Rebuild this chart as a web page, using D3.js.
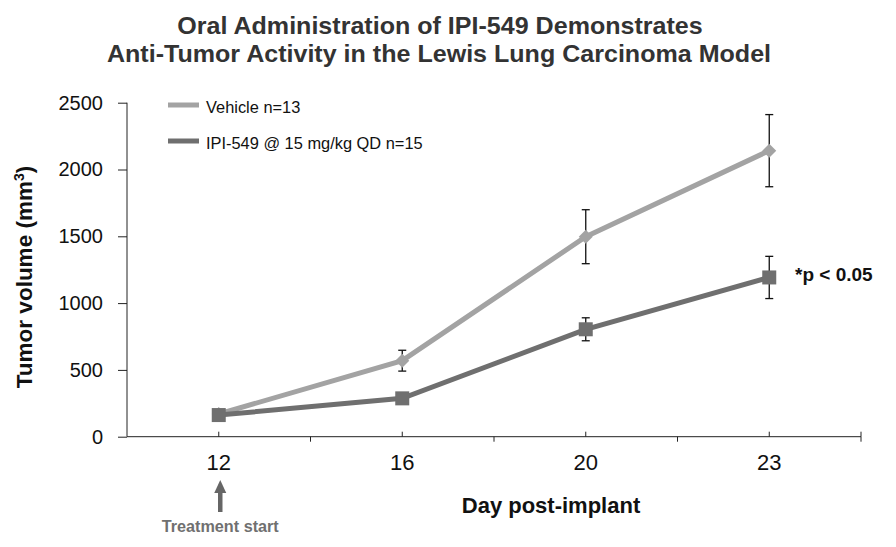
<!DOCTYPE html>
<html><head><meta charset="utf-8">
<script src="https://cdn.jsdelivr.net/npm/d3@7"></script>
<style>body{margin:0;background:#fff}svg{display:block}text{font-family:"Liberation Sans",Arial,sans-serif}</style>
</head><body>
<svg id="c" width="896" height="547"></svg>
<script>
const days = ["12","16","20","23"];
const vehicle = [170, 569, 1497, 2141];
const vehicleErr = [0, 78, 202, 270];
const ipi = [162, 287, 804, 1192];
const ipiErr = [0, 0, 86, 158];
const yTicks = [0,500,1000,1500,2000,2500];
const seriesNames = ["Vehicle n=13","IPI-549 @ 15 mg/kg QD n=15"];

const svg = d3.select("#c");
const x = d3.scaleBand().domain(days).range([127,861]).paddingInner(0).paddingOuter(0);
const y = d3.scaleLinear().domain([0,2500]).range([436.7,102.7]);
const cx = d => x(d)+x.bandwidth()/2;

function stext(px, py, str, size, sx, anchor, weight, fill){
  return svg.append("text").attr("transform",`translate(${px},${py}) scale(${sx},1)`)
    .attr("text-anchor",anchor).style("font-size",size+"px").style("font-weight",weight).attr("fill",fill).text(str);
}

// title
stext(440, 34, "Oral Administration of IPI-549 Demonstrates", 23, 1.09, "middle", "bold", "#333");
stext(439, 61.5, "Anti-Tumor Activity in the Lewis Lung Carcinoma Model", 23, 1.09, "middle", "bold", "#333");

// y axis
const ya = svg.append("g").attr("transform","translate(127,0)")
  .call(d3.axisLeft(y).tickValues(yTicks).tickSize(9).tickPadding(15).tickFormat(d3.format("d")));
ya.select(".domain").attr("stroke","#222").attr("d","M0,"+y(2500)+"V"+y(0));
ya.selectAll(".tick line").attr("stroke","#222");
ya.selectAll("text").style("font-size","20px").attr("fill","#111").style("font-family","'Liberation Sans',Arial,sans-serif");

// x axis
const xa = svg.append("g").attr("transform","translate(0,"+y(0)+")")
  .call(d3.axisBottom(x).tickSize(-5).tickPadding(18).tickSizeOuter(0));
xa.select(".domain").attr("stroke","#222").attr("d","M"+x.range()[0]+",0H"+x.range()[1]);
xa.selectAll(".tick line").attr("stroke","#222");
xa.selectAll("text").style("font-size","22px").attr("fill","#111").style("font-family","'Liberation Sans',Arial,sans-serif");
const bounds = days.slice(1).map(d=>x(d)).concat([x.range()[1]]);
xa.selectAll(".btick").data(bounds).join("line").attr("class","btick")
  .attr("x1",d=>d).attr("x2",d=>d).attr("y1",0).attr("y2",5).attr("stroke","#222");
xa.append("line").attr("x1",x.range()[1]).attr("x2",x.range()[1]).attr("y1",-5).attr("y2",0).attr("stroke","#222");

// axis titles
svg.append("text").attr("transform","translate(32,277) rotate(-90)").attr("text-anchor","middle")
  .style("font-weight","bold").style("font-size","22.5px").attr("fill","#111")
  .html('Tumor volume (mm<tspan dy="-8" style="font-size:14px">3</tspan><tspan dy="8">)</tspan>');
stext(551, 513, "Day post-implant", 22, 1.0, "middle", "bold", "#111");

// treatment start
const ax = cx("12")+1.5;
svg.append("line").attr("x1",ax).attr("x2",ax).attr("y1",512).attr("y2",490)
  .attr("stroke","#666").attr("stroke-width",4.5);
svg.append("path").attr("d",`M${ax-6},${493}L${ax},${480}L${ax+6},${493}Z`).attr("fill","#666");
stext(ax, 532, "Treatment start", 16.2, 1.0, "middle", "bold", "#707070");

const colors = ["#a3a3a3","#6f6f6f"];
const line = d3.line().x((d,i)=>cx(days[i])).y(d=>y(d));

function drawErr(vals, errs){
  const g = svg.append("g").attr("stroke","#111").attr("stroke-width",1.3);
  vals.forEach((v,i)=>{
    if(!errs[i]) return;
    const xx = cx(days[i]);
    g.append("line").attr("x1",xx).attr("x2",xx).attr("y1",y(v+errs[i])).attr("y2",y(v-errs[i]));
    [v+errs[i], v-errs[i]].forEach(e=>g.append("line").attr("x1",xx-4).attr("x2",xx+4).attr("y1",y(e)).attr("y2",y(e)));
  });
}
drawErr(vehicle, vehicleErr);
drawErr(ipi, ipiErr);

svg.append("path").datum(vehicle).attr("d",line).attr("fill","none").attr("stroke",colors[0]).attr("stroke-width",5);
svg.selectAll(".dia").data(vehicle).join("path").attr("class","dia")
  .attr("d",(d,i)=>{const xx=cx(days[i]),yy=y(d),r=7;return `M${xx},${yy-r}L${xx+r},${yy}L${xx},${yy+r}L${xx-r},${yy}Z`;})
  .attr("fill",colors[0]);
svg.append("path").datum(ipi).attr("d",line).attr("fill","none").attr("stroke",colors[1]).attr("stroke-width",5);
svg.selectAll(".sq").data(ipi).join("rect").attr("class","sq")
  .attr("x",(d,i)=>cx(days[i])-7).attr("y",d=>y(d)-7).attr("width",14).attr("height",14).attr("fill",colors[1]);

stext(795, 281, "*p < 0.05", 19, 1.0, "start", "bold", "#111");

seriesNames.forEach((n,i)=>{
  const yy = 105 + i*36;
  svg.append("line").attr("x1",168).attr("x2",199).attr("y1",yy).attr("y2",yy).attr("stroke",colors[i]).attr("stroke-width",5);
  stext(206, yy+7.5, n, 16.4, 1.0, "start", "normal", "#111");
});
</script>
</body></html>
